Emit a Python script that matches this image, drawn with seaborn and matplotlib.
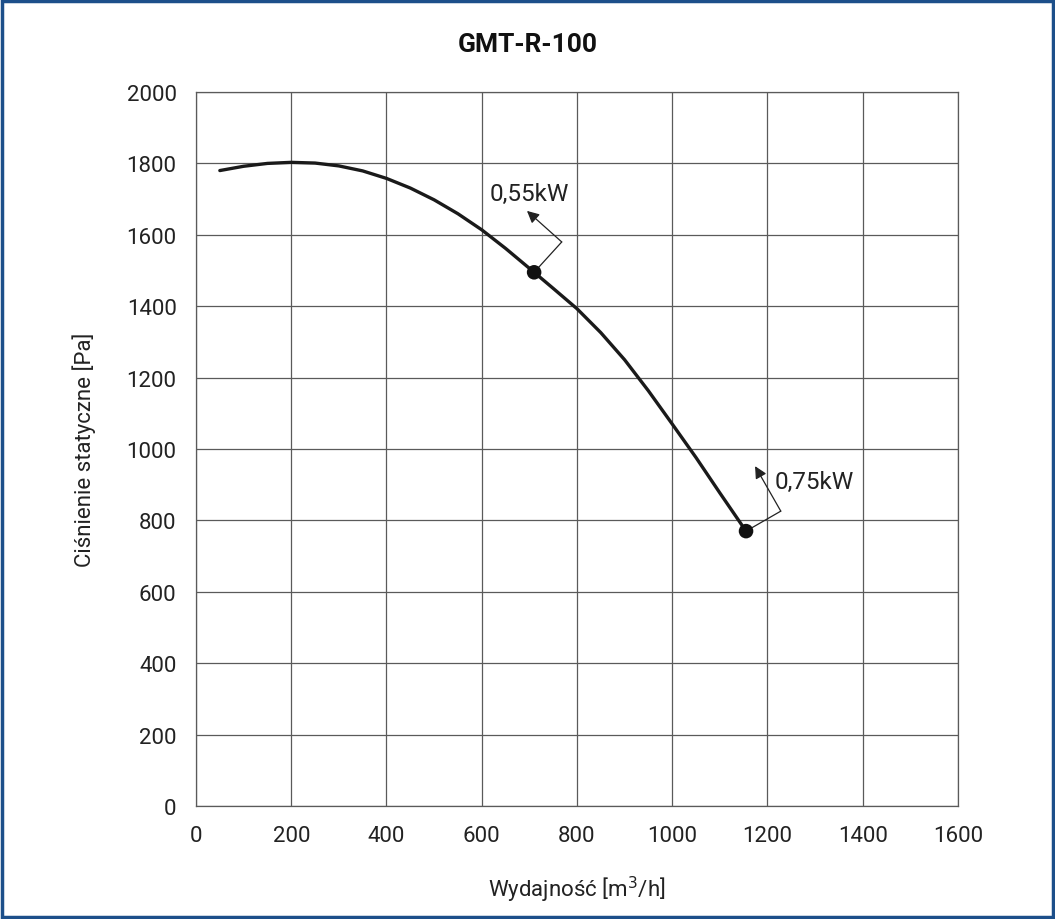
import matplotlib
matplotlib.use("Agg")
import matplotlib.pyplot as plt
from matplotlib.patches import Rectangle
import seaborn as sns
import pandas as pd

# fan curve
flow = [50, 100, 150, 200, 250, 300, 350, 400, 450, 500, 550, 600, 650,
        710, 750, 800, 850, 900, 950, 1000, 1050, 1100, 1155]
pressure = [1780, 1792, 1800, 1803, 1801, 1793, 1779, 1758, 1731, 1698, 1659,
            1614, 1562, 1495, 1450, 1393, 1326, 1250, 1163, 1070, 976, 877, 770]

# motor power points
power_labels = ["0,55kW", "0,75kW"]
power_flow = [710, 1155]
power_pressure = [1495, 770]

x_ticks = list(range(0, 1601, 200))
y_ticks = list(range(0, 2001, 200))

sns.set_theme(style="white")
plt.rcParams["font.family"] = ["Roboto", "DejaVu Sans"]

fig = plt.figure(figsize=(10.55, 9.2), dpi=100)
ax = fig.add_axes([0.1858, 0.1228, 0.7222, 0.7761])

curve = pd.DataFrame({"flow": flow, "pressure": pressure})
pts = pd.DataFrame({"flow": power_flow, "pressure": power_pressure, "label": power_labels})

sns.lineplot(data=curve, x="flow", y="pressure", ax=ax, color="#1a1a1a",
             linewidth=2.4, zorder=3, solid_joinstyle="round")
sns.scatterplot(data=pts, x="flow", y="pressure", ax=ax, color="#111111",
                s=110, edgecolor="none", zorder=4)

# leader lines: point -> elbow -> arrow head, text near the head
leaders = [
    {"elbow": (58, 85), "head": (-15, 172), "text": (-93, 222)},
    {"elbow": (73, 56), "head": (19, 182), "text": (61, 140)},
]
for (px, py), lab, ld in zip(zip(power_flow, power_pressure), power_labels, leaders):
    ex, ey = px + ld["elbow"][0], py + ld["elbow"][1]
    hx, hy = px + ld["head"][0], py + ld["head"][1]
    ax.plot([px, ex], [py, ey], color="#222222", linewidth=0.9, zorder=3)
    ax.annotate("", xy=(hx, hy), xytext=(ex, ey),
                arrowprops=dict(arrowstyle="-|>", color="#222222", lw=0.9,
                                mutation_scale=18, shrinkA=0, shrinkB=0))
    ax.text(px + ld["text"][0], py + ld["text"][1], lab, fontsize=17.5,
            color="#222222", ha="left", va="center")

ax.set_xlim(0, 1600)
ax.set_ylim(0, 2000)
ax.set_xticks(x_ticks)
ax.set_yticks(y_ticks)
ax.grid(True, color="#5a5a5a", linewidth=0.9)
for sp in ax.spines.values():
    sp.set_color("#5a5a5a")
    sp.set_linewidth(0.9)
ax.tick_params(axis="both", length=0, labelsize=16, colors="#222222")
ax.tick_params(axis="x", pad=14)
ax.tick_params(axis="y", pad=14)

ax.set_xlabel("Wydajność [m$^3$/h]", fontsize=16, color="#222222", labelpad=20)
ax.set_ylabel("Ciśnienie statyczne [Pa]", fontsize=16, color="#222222", labelpad=22)
fig.text(0.5, 0.951, "GMT-R-100", ha="center", va="center", fontsize=19,
         fontweight="bold", color="#111111")

fig.patches.append(Rectangle((0.0015, 0.0017), 0.997, 0.9966, transform=fig.transFigure,
                             fill=False, edgecolor="#1c4f8a", linewidth=2.5))

fig.savefig("out.png", dpi=100)
